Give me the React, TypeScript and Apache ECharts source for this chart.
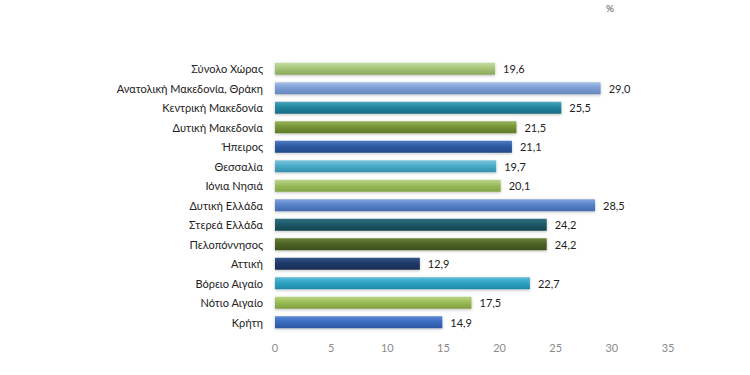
import React, { useEffect, useRef } from "react";
import * as echarts from "echarts";

const categories = [
  "Σύνολο Χώρας",
  "Ανατολική Μακεδονία, Θράκη",
  "Κεντρική Μακεδονία",
  "Δυτική Μακεδονία",
  "Ήπειρος",
  "Θεσσαλία",
  "Ιόνια Νησιά",
  "Δυτική Ελλάδα",
  "Στερεά Ελλάδα",
  "Πελοπόννησος",
  "Αττική",
  "Βόρειο Αιγαίο",
  "Νότιο Αιγαίο",
  "Κρήτη",
];
const values = [19.6, 29.0, 25.5, 21.5, 21.1, 19.7, 20.1, 28.5, 24.2, 24.2, 12.9, 22.7, 17.5, 14.9];
const xTicks = [0, 5, 10, 15, 20, 25, 30, 35];
const unitLabel = "%";

// [top, middle, bottom] gradient colours per bar
const barColors: [string, string, string][] = [
  ["#c6dba3", "#a7c677", "#8aa85c"],
  ["#a8bfe6", "#7e9fd6", "#6585bb"],
  ["#4aa6bd", "#23869f", "#1a6c82"],
  ["#9ab65e", "#779436", "#5f7a28"],
  ["#4f7cc2", "#2e5ba3", "#234a88"],
  ["#7fc6dc", "#4aacc8", "#3590ab"],
  ["#bcd68f", "#9cbd5d", "#82a346"],
  ["#7fa3dd", "#5884c9", "#4269ac"],
  ["#2f7183", "#1d5868", "#154652"],
  ["#6c8437", "#4e6426", "#3d4f1d"],
  ["#33558a", "#1f3b68", "#172d52"],
  ["#5fbbd6", "#2ea3c3", "#2187a4"],
  ["#b7d484", "#9bbd55", "#809f40"],
  ["#5a88d3", "#3a6cc0", "#2c57a0"],
];

export default function App() {
  const ref = useRef<HTMLDivElement>(null);
  useEffect(() => {
    if (!ref.current) return;
    const chart = echarts.init(ref.current, undefined, { renderer: "svg" });
    const data = values.map((v, i) => ({
      value: v,
      itemStyle: {
        color: new echarts.graphic.LinearGradient(0, 0, 0, 1, [
          { offset: 0, color: barColors[i][0] },
          { offset: 0.45, color: barColors[i][1] },
          { offset: 1, color: barColors[i][2] },
        ]),
        shadowColor: "rgba(0,0,0,0.25)",
        shadowBlur: 3,
        shadowOffsetY: 1,
      },
    }));
    chart.setOption({
      animation: false,
      backgroundColor: "#ffffff",
      grid: { left: 275, right: 82, top: 59, bottom: 43, containLabel: false },
      xAxis: {
        type: "value",
        min: 0,
        max: 35,
        interval: 5,
        axisLine: { show: false },
        axisTick: { show: false },
        splitLine: { show: false },
        axisLabel: {
          color: "#8a8a8a",
          fontSize: 11,
          fontFamily: "Lato",
          margin: 10,
          formatter: (v: number) => (xTicks.includes(v) ? String(v) : ""),
        },
      },
      yAxis: {
        type: "category",
        data: categories,
        inverse: true,
        axisLine: { show: false },
        axisTick: { show: false },
        axisLabel: { color: "#222", fontSize: 11, fontFamily: "Lato", margin: 12 },
      },
      series: [
        {
          type: "bar",
          data,
          barWidth: 12,
          label: {
            show: true,
            position: "right",
            distance: 8,
            color: "#222",
            fontSize: 11,
            fontFamily: "Lato",
            formatter: (p: any) => p.value.toFixed(1).replace(".", ","),
          },
        },
      ],
      graphic: [
        {
          type: "text",
          left: 606,
          top: 3,
          style: { text: unitLabel, fill: "#555", fontSize: 10, fontFamily: "Lato" },
        },
      ],
    });
    return () => chart.dispose();
  }, []);
  return (
    <div
      ref={ref}
      style={{ position: "absolute", left: 0, top: 0, width: 750, height: 375 }}
    />
  );
}
